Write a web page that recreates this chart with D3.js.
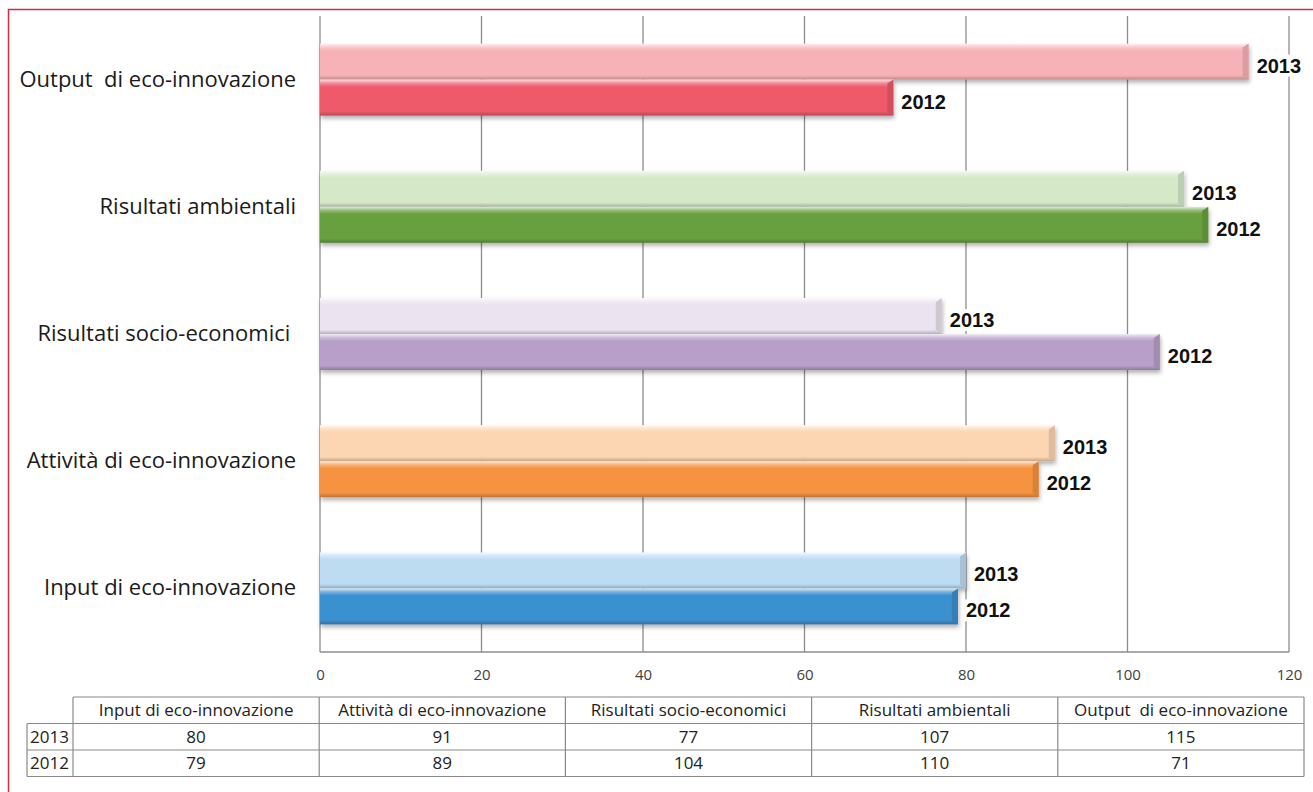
<!DOCTYPE html>
<html>
<head>
<meta charset="utf-8">
<script src="https://cdn.jsdelivr.net/npm/d3@7"></script>
<style>
  body { margin: 0; background: #fff; }
  text { font-family: "Open Sans", Lato, sans-serif; white-space: pre; }
</style>
</head>
<body>
<div id="graph"></div>
<script>
// chart data
var categories = ["Input di eco-innovazione", "Attività di eco-innovazione", "Risultati socio-economici ", "Risultati ambientali", "Output  di eco-innovazione"];
var tableHeaders = ["Input di eco-innovazione", "Attività di eco-innovazione", "Risultati socio-economici", "Risultati ambientali", "Output  di eco-innovazione"];
var years = ["2013", "2012"];
var values2013 = [80, 91, 77, 107, 115];
var values2012 = [79, 89, 104, 110, 71];
var xTicks = [0, 20, 40, 60, 80, 100, 120];

// colours: light for 2013, dark for 2012, one per category
var colors2013 = ["#bddcf2", "#fcd5b2", "#ebe3ef", "#d5e8c8", "#f6b2b7"];
var colors2012 = ["#3b90d0", "#f59340", "#b79fc9", "#68a041", "#ef5a6a"];

window.onload = start;

function start() {
    var width = 1313, height = 792;
    var left = 320, right = 1289, top = 16, bottom = 652;

    var svg = d3.select("#graph").append("svg")
        .attr("width", width).attr("height", height);

    var defs = svg.append("defs");
    var shadow = defs.append("filter").attr("id", "shadow")
        .attr("x", "-5%").attr("y", "-30%").attr("width", "110%").attr("height", "180%");
    shadow.append("feDropShadow").attr("dx", 1).attr("dy", 3)
        .attr("stdDeviation", 2).attr("flood-color", "#000").attr("flood-opacity", 0.3);

    function gradient(id, c) {
        var col = d3.color(c);
        var g = defs.append("linearGradient").attr("id", id)
            .attr("x1", 0).attr("y1", 0).attr("x2", 0).attr("y2", 1);
        g.append("stop").attr("offset", 0).attr("stop-color", d3.interpolateRgb(c, "#fff")(0.8));
        g.append("stop").attr("offset", 0.1).attr("stop-color", d3.interpolateRgb(c, "#fff")(0.3));
        g.append("stop").attr("offset", 0.2).attr("stop-color", c);
        g.append("stop").attr("offset", 0.88).attr("stop-color", c);
        g.append("stop").attr("offset", 1).attr("stop-color", col.darker(0.7));
    }

    // outer frame
    svg.append("rect").attr("x", 8.5).attr("y", 9.5)
        .attr("width", 1400).attr("height", 900)
        .attr("fill", "none").attr("stroke", "#d22d43").attr("stroke-width", 1.5);

    var x = d3.scaleLinear().domain([0, 120]).range([left, right]);
    var y = d3.scaleBand().domain(categories.slice().reverse()).range([top, bottom]);
    var yInner = d3.scaleBand().domain(years).range([0, y.bandwidth()]).paddingOuter(0.767);

    // gridlines
    svg.append("g").selectAll("line").data(xTicks).enter().append("line")
        .attr("x1", function(d) { return x(d); })
        .attr("x2", function(d) { return x(d); })
        .attr("y1", top).attr("y2", bottom)
        .attr("stroke", "#8c8c8c").attr("stroke-width", 1.3);
    svg.append("line").attr("x1", left).attr("x2", right)
        .attr("y1", bottom).attr("y2", bottom)
        .attr("stroke", "#8c8c8c").attr("stroke-width", 1.3);

    // x axis labels
    var xAxis = d3.axisBottom(x).tickValues(xTicks).tickSize(0).tickPadding(17);
    var gx = svg.append("g").attr("transform", "translate(0," + bottom + ")").call(xAxis);
    gx.select(".domain").remove();
    gx.selectAll("text").attr("font-size", 15).attr("fill", "#404040")
        .style("font-family", "'Open Sans', sans-serif");

    // y axis labels
    var yAxis = d3.axisLeft(y).tickSize(0).tickPadding(24);
    var gy = svg.append("g").attr("transform", "translate(" + left + ",0)").call(yAxis);
    gy.select(".domain").remove();
    gy.selectAll("text").attr("font-size", 22).attr("fill", "#1a1a1a")
        .style("font-family", "'Open Sans', sans-serif");

    var rows = [];
    categories.forEach(function(c, i) {
        gradient("g13_" + i, colors2013[i]);
        gradient("g12_" + i, colors2012[i]);
        rows.push({ cat: c, year: "2013", value: values2013[i], fill: "url(#g13_" + i + ")", base: colors2013[i] });
        rows.push({ cat: c, year: "2012", value: values2012[i], fill: "url(#g12_" + i + ")", base: colors2012[i] });
    });

    var bars = svg.append("g").selectAll("g.bar").data(rows).enter().append("g")
        .attr("class", "bar")
        .attr("transform", function(d) { return "translate(0," + (y(d.cat) + yInner(d.year)) + ")"; });

    bars.append("rect")
        .attr("x", left)
        .attr("y", 0)
        .attr("width", function(d) { return x(d.value) - left; })
        .attr("height", yInner.bandwidth())
        .attr("fill", function(d) { return d.fill; })
        .attr("filter", "url(#shadow)");

    // bevel on right end
    bars.append("path")
        .attr("d", function(d) {
            var xe = x(d.value), h = yInner.bandwidth();
            return "M" + (xe - 6) + "," + 4 + "L" + xe + "," + 0 + "L" + xe + "," + h + "L" + (xe - 6) + "," + (h - 4) + "Z";
        })
        .attr("fill", function(d) { return d3.color(d.base).darker(0.35); });

    // value labels
    var labels = svg.append("g").selectAll("g").data(rows).enter().append("g")
        .attr("transform", function(d) {
            return "translate(" + (x(d.value) + 8) + "," + (y(d.cat) + yInner(d.year) + yInner.bandwidth() / 2 + 4) + ")";
        });
    labels.append("rect").attr("fill", "#fff");
    labels.append("text")
        .attr("dy", "0.35em")
        .attr("font-size", 20).attr("font-weight", "bold").attr("fill", "#111")
        .style("font-family", "'Liberation Sans', Arial, sans-serif")
        .text(function(d) { return d.year; });
    labels.each(function() {
        var g = d3.select(this);
        var b = g.select("text").node().getBBox();
        g.select("rect").attr("x", b.x - 2).attr("y", b.y).attr("width", b.width + 4).attr("height", b.height);
    });

    // data table
    var tLeft = 27, tRight = 1304, firstCol = 73;
    var rowTop = 697, rowH = 26.5;
    var col = d3.scaleBand().domain(tableHeaders).range([firstCol, tRight]);
    var table = svg.append("g");
    var stroke = "#8a8a8a";

    // horizontal lines
    table.append("line").attr("x1", firstCol).attr("x2", tRight).attr("y1", rowTop).attr("y2", rowTop);
    [1, 2, 3].forEach(function(r) {
        table.append("line").attr("x1", tLeft).attr("x2", tRight)
            .attr("y1", rowTop + r * rowH).attr("y2", rowTop + r * rowH);
    });
    // vertical lines
    table.append("line").attr("x1", tLeft).attr("x2", tLeft).attr("y1", rowTop + rowH).attr("y2", rowTop + 3 * rowH);
    tableHeaders.forEach(function(h) {
        table.append("line").attr("x1", col(h)).attr("x2", col(h)).attr("y1", rowTop).attr("y2", rowTop + 3 * rowH);
    });
    table.append("line").attr("x1", tRight).attr("x2", tRight).attr("y1", rowTop).attr("y2", rowTop + 3 * rowH);
    table.selectAll("line").attr("stroke", stroke).attr("stroke-width", 1.2);

    table.selectAll("text.head").data(tableHeaders).enter().append("text")
        .attr("x", function(d) { return col(d) + col.bandwidth() / 2; })
        .attr("y", rowTop + rowH / 2).attr("dy", "0.35em")
        .attr("text-anchor", "middle").attr("font-size", 17).attr("fill", "#222")
        .text(function(d) { return d; });

    var tableRows = [{ year: "2013", vals: values2013 }, { year: "2012", vals: values2012 }];
    tableRows.forEach(function(r, ri) {
        var cy = rowTop + (ri + 1) * rowH + rowH / 2;
        table.append("text").attr("x", tLeft + 3).attr("y", cy).attr("dy", "0.35em")
            .attr("font-size", 17).attr("fill", "#222").text(r.year);
        table.selectAll("text.v" + ri).data(r.vals).enter().append("text")
            .attr("x", function(d, i) { return col(tableHeaders[i]) + col.bandwidth() / 2; })
            .attr("y", cy).attr("dy", "0.35em")
            .attr("text-anchor", "middle").attr("font-size", 17).attr("fill", "#222")
            .text(function(d) { return d; });
    });
}
</script>
</body>
</html>
